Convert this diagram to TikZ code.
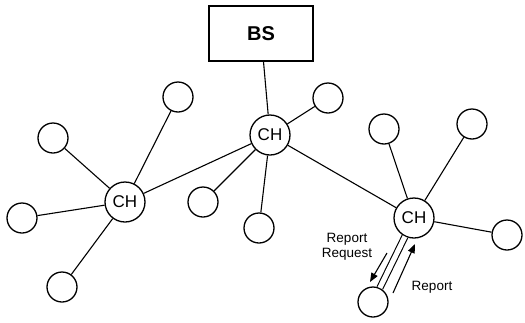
\documentclass[tikz,border=0pt]{standalone}
\usepackage{fontspec}
\setmainfont{Liberation Sans}
\usetikzlibrary{arrows.meta}
\begin{document}
\begin{tikzpicture}[x=1pt,y=-1pt,
  leaf/.style={circle,draw,line width=1.3pt,minimum size=30pt,inner sep=0pt},
  ch/.style={circle,draw,line width=1.3pt,minimum size=40pt,inner sep=0pt,font=\fontsize{17}{17}\selectfont},
  bs/.style={rectangle,draw,line width=1.2pt,minimum width=104pt,minimum height=55pt,font=\fontsize{20}{20}\selectfont\bfseries},
  edge/.style={line width=1.1pt},
  lbl/.style={font=\fontsize{13.5}{15}\selectfont,align=center,inner sep=0pt},
  msg/.style={line width=1.1pt,-{Triangle[length=9pt,width=7pt]}}]
\useasboundingbox (0,0) rectangle (525,322);
\node[bs] (bs) at (261,33.5) {BS};
\node[ch] (chm) at (270,135) {CH};
\node[ch] (chl) at (125,202) {CH};
\node[ch] (chr) at (414,218) {CH};
\node[leaf] (l1) at (178,97) {};
\node[leaf] (l2) at (53,138) {};
\node[leaf] (l3) at (22,218) {};
\node[leaf] (l4) at (62,287) {};
\node[leaf] (m1) at (328,98) {};
\node[leaf] (m2) at (203,202) {};
\node[leaf] (m3) at (259,228) {};
\node[leaf] (r1) at (384,129) {};
\node[leaf] (r2) at (472,124) {};
\node[leaf] (r3) at (507,235) {};
\node[leaf] (r4) at (373,302) {};
\draw[edge] (bs) -- (chm);
\draw[edge] (chm) -- (m1);
\draw[edge] (chm) -- (m2);
\draw[edge] (chm) -- (m3);
\draw[edge] (chm) -- (chl);
\draw[edge] (chm) -- (chr);
\draw[edge] (chl) -- (l1);
\draw[edge] (chl) -- (l2);
\draw[edge] (chl) -- (l3);
\draw[edge] (chl) -- (l4);
\draw[edge] (chr) -- (r1);
\draw[edge] (chr) -- (r2);
\draw[edge] (chr) -- (r3);
\draw[edge,double,double distance=5pt] (chr) -- (r4);
\coordinate (rqs) at (387,253);
\coordinate (rqe) at (370,282);
\coordinate (rps) at (393,293);
\coordinate (rpe) at (415,244);
\draw[msg] (rqs) -- (rqe);
\draw[msg] (rps) -- (rpe);
\node[lbl] (rq) at (347,247) {Report\\Request};
\node[lbl] (rp) at (432,287) {Report};
\end{tikzpicture}
\end{document}
